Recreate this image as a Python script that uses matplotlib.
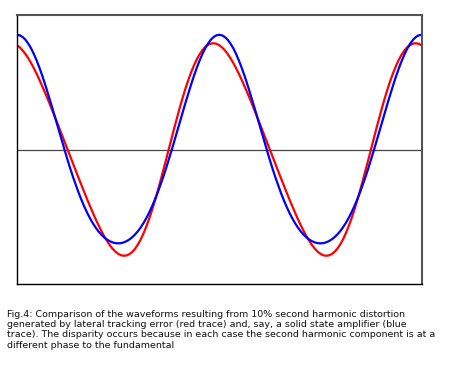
import matplotlib
matplotlib.use("Agg")
import matplotlib.pyplot as plt

# phase of the fundamental in degrees, every 5 deg over two cycles
phase_deg = list(range(0, 721, 5))

# one cycle of each trace (fundamental = 1)
blue_cycle = [1.100, 1.095, 1.079, 1.053, 1.016, 0.971, 0.916, 0.853, 0.783, 0.707,
              0.625, 0.539, 0.450, 0.358, 0.265, 0.172, 0.080, -0.011, -0.100, -0.186,
              -0.268, -0.345, -0.419, -0.487, -0.550, -0.608, -0.660, -0.707, -0.749, -0.785,
              -0.816, -0.842, -0.863, -0.879, -0.891, -0.898, -0.900, -0.898, -0.891, -0.879,
              -0.863, -0.842, -0.816, -0.785, -0.749, -0.707, -0.660, -0.608, -0.550, -0.487,
              -0.419, -0.345, -0.268, -0.186, -0.100, -0.011, 0.080, 0.172, 0.265, 0.358,
              0.450, 0.539, 0.625, 0.707, 0.783, 0.853, 0.916, 0.971, 1.016, 1.053,
              1.079, 1.095]
red_cycle = [1.000, 0.979, 0.951, 0.916, 0.875, 0.830, 0.779, 0.725, 0.668, 0.607,
             0.544, 0.480, 0.413, 0.346, 0.278, 0.209, 0.139, 0.070, 0.000, -0.070,
             -0.139, -0.209, -0.278, -0.346, -0.413, -0.480, -0.544, -0.607, -0.668, -0.725,
             -0.779, -0.830, -0.875, -0.916, -0.951, -0.979, -1.000, -1.014, -1.019, -1.016,
             -1.004, -0.983, -0.953, -0.913, -0.865, -0.807, -0.741, -0.668, -0.587, -0.499,
             -0.406, -0.309, -0.208, -0.105, 0.000, 0.105, 0.208, 0.309, 0.406, 0.499,
             0.587, 0.668, 0.741, 0.807, 0.865, 0.913, 0.953, 0.983, 1.004, 1.016,
             1.019, 1.014]

blue_trace = blue_cycle * 2 + [blue_cycle[0]]
red_trace = red_cycle * 2 + [red_cycle[0]]

caption = ("Fig.4: Comparison of the waveforms resulting from 10% second harmonic distortion\n"
           "generated by lateral tracking error (red trace) and, say, a solid state amplifier (blue\n"
           "trace). The disparity occurs because in each case the second harmonic component is at a\n"
           "different phase to the fundamental")

fig = plt.figure(figsize=(4.5, 3.66), dpi=100)
ax = fig.add_axes([17 / 450, 82 / 366, 404.5 / 450, 269 / 366])

ax.axhline(0, color='#444444', lw=0.9)
ax.plot(phase_deg, red_trace, color='#ff0000', lw=1.6)
ax.plot(phase_deg, blue_trace, color='#0000ff', lw=1.6)

ax.set_xlim(0, 720)
ax.set_ylim(-1.29, 1.29)
ax.set_xticks([])
ax.set_yticks([])
for side in ['top', 'right']:
    ax.spines[side].set_color('#555555')
    ax.spines[side].set_linewidth(1.5)
for side in ['left', 'bottom']:
    ax.spines[side].set_color('black')
    ax.spines[side].set_linewidth(1.0)

fig.text(7 / 450, 1 - 310 / 366, caption, fontsize=6.8, va='top', ha='left',
         linespacing=1.17, color='#111111')

fig.savefig('out.png', dpi=100)
